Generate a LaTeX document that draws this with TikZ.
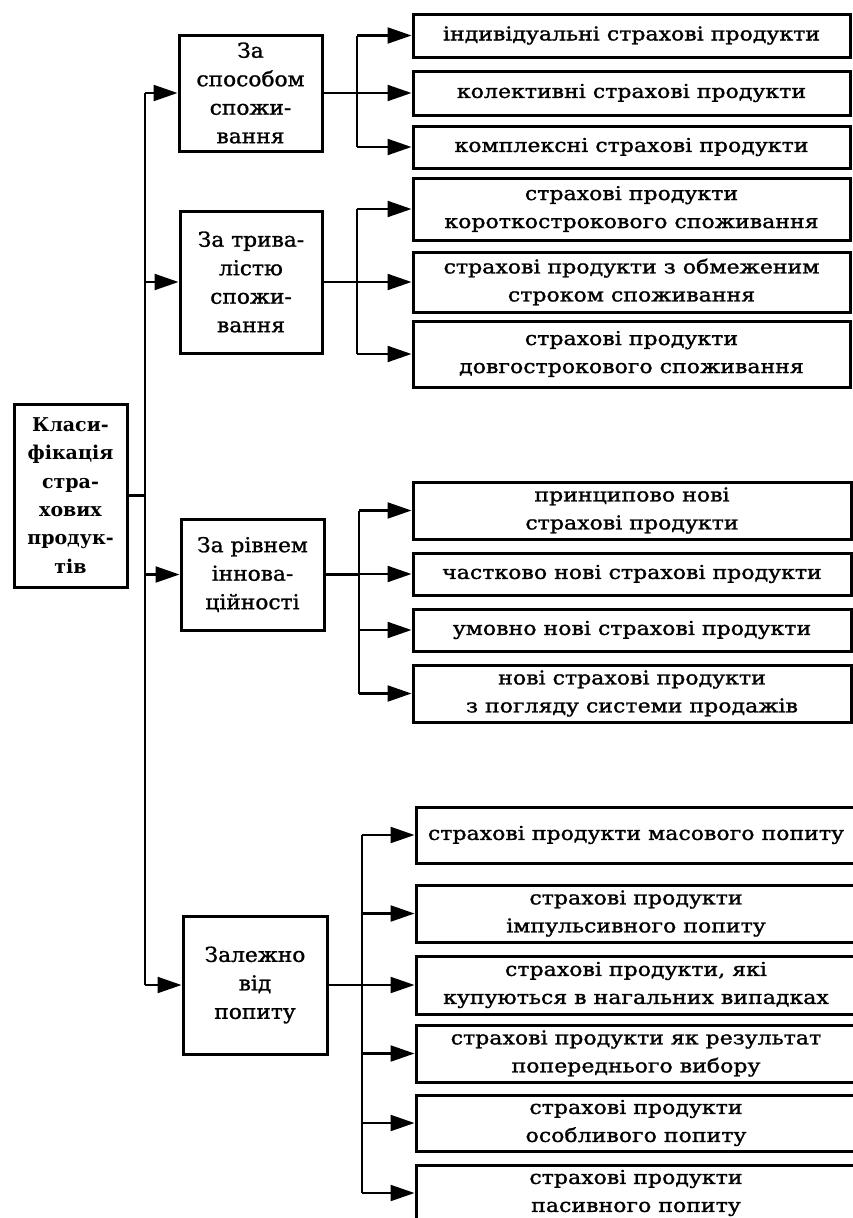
\documentclass[tikz,border=0pt]{standalone}
\usepackage{fontspec}
\setmainfont[FakeStretch=1.16,FakeBold=1.4]{DejaVu Serif}
\newfontfamily\catfont[FakeStretch=1.06,FakeBold=1.2]{DejaVu Serif}
\newfontfamily\rootfont{DejaVu Serif}
\usetikzlibrary{arrows.meta}
\tikzset{
  box/.style={draw, line width=3pt, align=center, inner sep=0pt, font=\fontsize{19}{28}\selectfont},
  catbox/.style={box, font=\catfont\fontsize{20.5}{28.5}\selectfont},
  rootbox/.style={box, font=\rootfont\bfseries\fontsize{19}{28.3}\selectfont},
  conn/.style={line width=2.2pt},
  arr/.style={conn, -{Triangle[length=24pt,width=16pt]}}
}
\newcommand\bx[7]{\node[#7, minimum width={(#4-#2)*1pt}, minimum height={(#5-#3)*1pt}] (#1) at ({(#2+#4)/2},{(#3+#5)/2}) {#6};}
\begin{document}
\begin{tikzpicture}[x=1pt,y=-1pt]
\useasboundingbox (0,0) rectangle (852,1218);
% root
\bx{L}{14}{404}{127}{587}{Класи-\\фікація\\стра-\\хових\\продук-\\тів}{rootbox}
% categories
\bx{C1}{179}{35}{322}{151}{За\\способом\\спожи-\\вання}{catbox}
\bx{C2}{180}{211}{322}{353}{За трива-\\лістю\\спожи-\\вання}{catbox}
\bx{C3}{181}{519}{324}{630}{За рівнем\\іннова-\\ційності}{catbox}
\bx{C4}{183}{916}{327}{1054}{Залежно\\від\\попиту}{catbox}
% group 1
\bx{R1}{413}{14}{850}{57}{індивідуальні страхові продукти}{box}
\bx{R2}{413}{71}{850}{115}{колективні страхові продукти}{box}
\bx{R3}{413}{126}{850}{168}{комплексні страхові продукти}{box}
% group 2
\bx{R4}{413}{178}{850}{240}{страхові продукти\\короткострокового споживання}{box}
\bx{R5}{413}{252}{850}{312}{страхові продукти з обмеженим\\строком споживання}{box}
\bx{R6}{413}{321}{850}{387}{страхові продукти\\довгострокового споживання}{box}
% group 3
\bx{R7}{413}{482}{851}{539}{принципово нові\\страхові продукти}{box}
\bx{R8}{413}{553}{851}{595}{частково нові страхові продукти}{box}
\bx{R9}{413}{609}{851}{651}{умовно нові страхові продукти}{box}
\bx{R10}{413}{665}{851}{722}{нові страхові продукти\\з погляду системи продажів}{box}
% group 4
\bx{R11}{416}{807}{856}{863}{страхові продукти масового попиту}{box}
\bx{R12}{416}{885}{856}{942}{страхові продукти\\імпульсивного попиту}{box}
\bx{R13}{416}{956}{856}{1014}{страхові продукти, які\\купуються в нагальних випадках}{box}
\bx{R14}{416}{1025}{856}{1082}{страхові продукти як результат\\попереднього вибору}{box}
\bx{R15}{416}{1095}{856}{1151}{страхові продукти\\особливого попиту}{box}
\bx{R16}{416}{1165}{856}{1221}{страхові продукти\\пасивного попиту}{box}
% junction x positions
\coordinate (tx) at (145,0);
\coordinate (b1) at (357,0);
\coordinate (b2) at (357,0);
\coordinate (b3) at (359,0);
\coordinate (b4) at (362,0);
% trunk
\draw[conn] (L.east) -- (L.east -| tx);
\draw[conn] (tx |- C1.west) -- (tx |- C4.west);
\foreach \c in {C1,C2,C3,C4} \draw[arr] (tx |- \c.west) -- (\c.west);
% group 1
\draw[conn] (C1.east) -- (C1.east -| b1);
\draw[conn] (b1 |- R1.west) -- (b1 |- R3.west);
\foreach \r in {R1,R2,R3} \draw[arr] (b1 |- \r.west) -- (\r.west);
% group 2
\draw[conn] (C2.east) -- (C2.east -| b2);
\draw[conn] (b2 |- R4.west) -- (b2 |- R6.west);
\foreach \r in {R4,R5,R6} \draw[arr] (b2 |- \r.west) -- (\r.west);
% group 3
\draw[conn] (C3.east) -- (C3.east -| b3);
\draw[conn] (b3 |- R7.west) -- (b3 |- R10.west);
\foreach \r in {R7,R8,R9,R10} \draw[arr] (b3 |- \r.west) -- (\r.west);
% group 4
\draw[conn] (C4.east) -- (C4.east -| b4);
\draw[conn] (b4 |- R11.west) -- (b4 |- R16.west);
\foreach \r in {R11,R12,R13,R14,R15,R16} \draw[arr] (b4 |- \r.west) -- (\r.west);
\end{tikzpicture}
\end{document}
